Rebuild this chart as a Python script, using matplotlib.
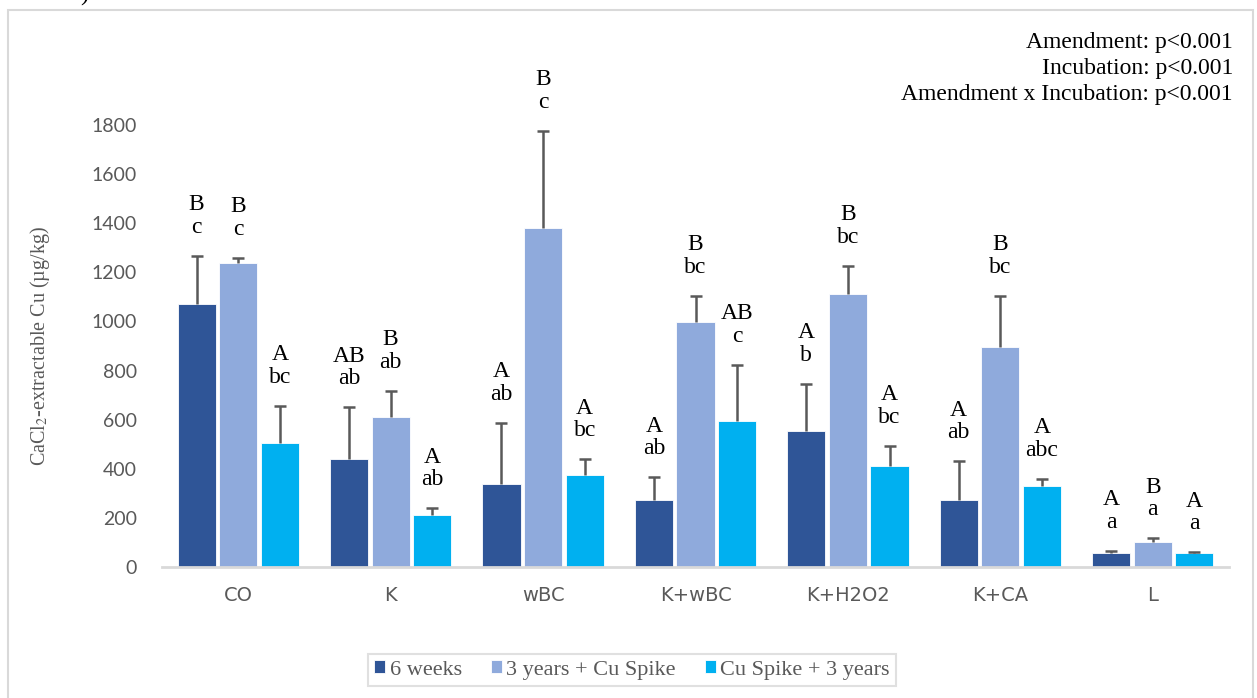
import matplotlib
matplotlib.use("Agg")
import matplotlib.pyplot as plt
import numpy as np
from matplotlib.patches import Rectangle

# ---------------------------
# DATA
# ---------------------------
categories = ["CO", "K", "wBC", "K+wBC", "K+H2O2", "K+CA", "L"]
series_names = ["6 weeks", "3 years + Cu Spike", "Cu Spike + 3 years"]

weeks6 = [1070, 441, 337, 273, 554, 272, 57]
years3_spike = [1238, 612, 1382, 996, 1110, 896, 102]
spike_years3 = [504, 212, 375, 596, 410, 330, 56]

weeks6_err = [196, 209, 251, 92, 193, 158, 9]
years3_spike_err = [22, 106, 395, 108, 117, 208, 15]
spike_years3_err = [153, 27, 64, 228, 84, 30, 4]

weeks6_letters = ["B\nc", "AB\nab", "A\nab", "A\nab", "A\nb", "A\nab", "A\na"]
years3_spike_letters = ["B\nc", "B\nab", "B\nc", "B\nbc", "B\nbc", "B\nbc", "B\na"]
spike_years3_letters = ["A\nbc", "A\nab", "A\nbc", "AB\nc", "A\nbc", "A\nabc", "A\na"]

stats_text = "Amendment: p<0.001\nIncubation: p<0.001\nAmendment x Incubation: p<0.001"

colors = ["#2F5597", "#8FAADC", "#00B0F0"]
grey = "#595959"
serif = ["Liberation Serif", "DejaVu Serif"]

plt.rcParams["mathtext.fontset"] = "stix"

# ---------------------------
# FIGURE
# ---------------------------
W, H = 1257, 698
fig = plt.figure(figsize=(W / 100, H / 100), dpi=100)
ax = fig.add_axes([162 / W, 1 - 567 / H, (1229 - 162) / W, (567 - 125) / H])

# outer chart border
fig.patches.append(Rectangle((8 / W, -0.02), (1253 - 8) / W, 1.02 - 10 / H,
                             transform=fig.transFigure, fill=False,
                             edgecolor="#D9D9D9", linewidth=1.5))
# cut-off panel label at the very top
fig.text(80 / W, 1 - 6 / H, ")", fontsize=18, family=serif, ha="left", va="bottom")

x = np.arange(len(categories))
offset = 0.273
width = 0.25

all_vals = [weeks6, years3_spike, spike_years3]
all_errs = [weeks6_err, years3_spike_err, spike_years3_err]
all_letters = [weeks6_letters, years3_spike_letters, spike_years3_letters]

for i, (vals, errs, lets) in enumerate(zip(all_vals, all_errs, all_letters)):
    pos = x + (i - 1) * offset
    ax.bar(pos, vals, width, color=colors[i], label=series_names[i],
           edgecolor="white", linewidth=0.6, zorder=2)
    eb = ax.errorbar(pos, vals, yerr=[np.zeros(len(vals)), errs], fmt="none",
                     ecolor=grey, elinewidth=1.8, capsize=4.5, capthick=1.8, zorder=3)
    # plus-only error bars: hide the cap sitting on the bar top
    eb[1][0].set_visible(False)
    for p, v, e, t in zip(pos, vals, errs, lets):
        ax.annotate(t, (p, v + e), xytext=(0, 13), textcoords="offset points",
                    ha="center", va="bottom", fontsize=17, family=serif,
                    linespacing=1.1, annotation_clip=False)

ax.set_xlim(-0.5, len(categories) - 0.5)
ax.set_ylim(0, 1800)
ax.set_yticks(np.arange(0, 1801, 200))
ax.set_xticks(x)
ax.set_xticklabels(categories, family=["Liberation Sans Narrow", "DejaVu Sans"],
                   fontsize=14, color=grey)
for lab in ax.get_yticklabels():
    lab.set_family(["Lato", "DejaVu Sans"])
    lab.set_fontsize(14)
    lab.set_color(grey)
ax.tick_params(axis="y", length=0, pad=18)
ax.tick_params(axis="x", length=0, pad=14)

for s in ["top", "right", "left"]:
    ax.spines[s].set_visible(False)
ax.spines["bottom"].set_color("#D9D9D9")
ax.spines["bottom"].set_linewidth(2)

ax.set_ylabel(r"CaCl$_2$-extractable Cu (µg/kg)", family=serif, fontsize=14.5,
              color=grey)
ax.yaxis.set_label_coords(-(162 - 52) / (1229 - 162), 0.5)

fig.text(1233 / W, 1 - 32 / H, stats_text, ha="right", va="top", fontsize=17,
         family=serif, linespacing=1.3)

leg = fig.legend(loc="center", bbox_to_anchor=(632 / W, 1 - 670 / H), ncol=3,
                 frameon=True, fancybox=False, edgecolor="#D9D9D9",
                 prop={"family": serif, "size": 16}, handlelength=0.5,
                 handleheight=0.5, handletextpad=0.2, columnspacing=1.3,
                 borderpad=0.3)
leg.get_frame().set_linewidth(1.5)
for t in leg.get_texts():
    t.set_color(grey)

fig.savefig("out.png", dpi=100)
